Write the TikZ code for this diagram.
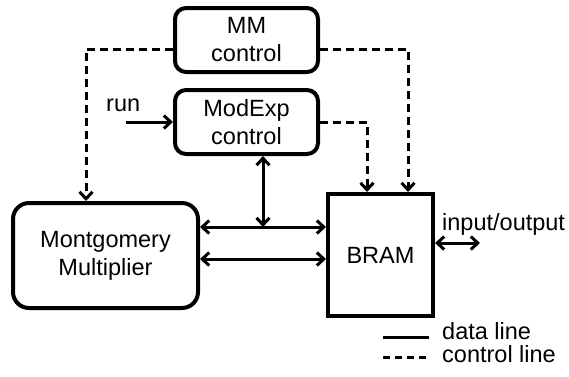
\documentclass[tikz,border=0pt]{standalone}
\usepackage{fontspec}
\setmainfont{Liberation Sans}
\usetikzlibrary{arrows.meta}
\begin{document}
\begin{tikzpicture}[x=1pt,y=-1pt,
  font=\fontsize{23.5}{28}\selectfont,
  blk/.style={draw,line width=4pt,fill=white,align=center,inner sep=0pt},
  rblk/.style={blk,rounded corners=11pt},
  data/.style={line width=3pt},
  ctrl/.style={line width=3pt,dash pattern=on 8pt off 5pt},
  >={Straight Barb[length=7pt,width=13pt]}]
\useasboundingbox (0,0) rectangle (569,376);
\fill[white] (0,0) rectangle (569,376);
% blocks
\node[rblk,minimum width=143pt,minimum height=64pt] (mm) at (246.5,40) {MM\\control};
\node[rblk,minimum width=143pt,minimum height=64pt] (modexp) at (246.5,122) {ModExp\\control};
\node[blk,rounded corners=16pt,minimum width=185pt,minimum height=105pt] (mont) at (105.5,255.5) {Montgomery\\Multiplier};
\node[blk,minimum width=105pt,minimum height=122pt] (bram) at (380.5,255) {BRAM};
% helper coordinates
\coordinate (mmL) at (86,49);
\coordinate (mmR) at (408,49);
\coordinate (meR) at (367,122);
\coordinate (runS) at (126,122);
\coordinate (j) at (263,227);
\coordinate (h2) at (263,259);
\coordinate (ioE) at (480,243);
% control lines
\draw[ctrl,->] (mm.west |- mmL) -- (mmL) -- (mmL |- mont.north);
\draw[ctrl,->] (mm.east |- mmR) -- (mmR) -- (mmR |- bram.north);
\draw[ctrl,->] (modexp.east) -- (meR) -- (meR |- bram.north);
% data lines
\node[anchor=base west,inner sep=0pt] (run) at (106,111) {run};
\draw[data,->] (runS) -- (modexp.west);
\draw[data,<->] (j |- modexp.south) -- (j);
\draw[data,<->] (mont.east |- j) -- (bram.west |- j);
\draw[data,<->] (mont.east |- h2) -- (bram.west |- h2);
\draw[data,<->] (bram.east |- ioE) -- (ioE);
\node[anchor=base west,inner sep=0pt] (io) at (442,230) {input/output};
% legend
\coordinate (l1a) at (383,337);
\coordinate (l1b) at (429,337);
\coordinate (l2a) at (383,357);
\coordinate (l2b) at (429,357);
\draw[data] (l1a) -- (l1b);
\draw[line width=3pt,dash pattern=on 7pt off 5pt] (l2a) -- (l2b);
\node[anchor=base west,inner sep=0pt] (dl) at (442,339) {data line};
\node[anchor=base west,inner sep=0pt] (cl) at (442,362) {control line};
\end{tikzpicture}
\end{document}
